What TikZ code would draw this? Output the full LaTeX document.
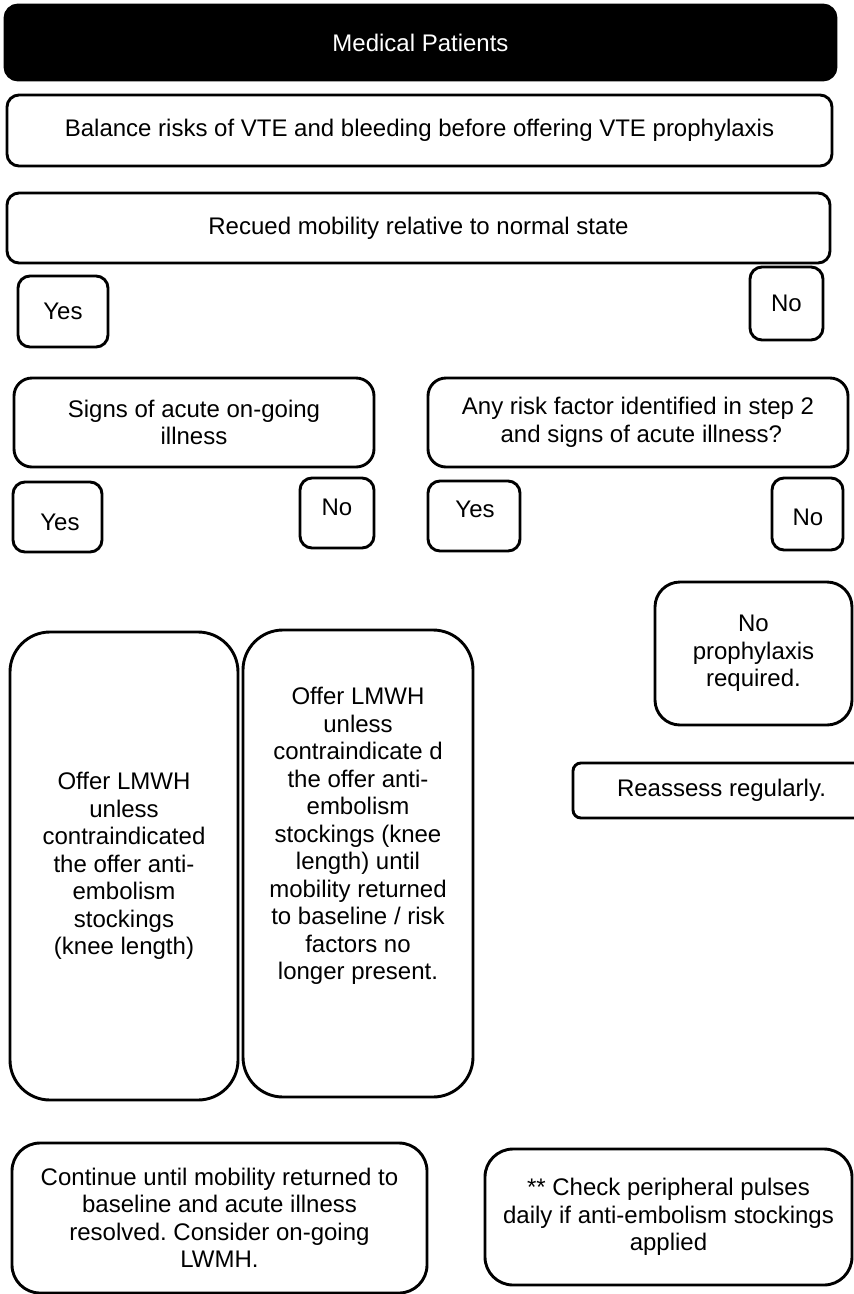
\documentclass[tikz,border=0pt]{standalone}
\usepackage{fontspec}
\setmainfont{Liberation Sans}
\frenchspacing
\begin{document}
\begin{tikzpicture}[x=1pt,y=-1pt,
  box/.style={draw, line width=2.9pt, rounded corners=#1, inner sep=0pt, align=center},
  box/.default=12pt,
  txt/.style={inner sep=0pt, align=center},
  every node/.append style={font=\fontsize{24}{27.5}\selectfont}]
\useasboundingbox (0,0) rectangle (854,1294);
% header
\node[box=13pt, fill=black, text=white, minimum width=831, minimum height=75] (med) at (420.5,42.5) {Medical Patients};
\node[box, minimum width=825, minimum height=71] (bal) at (419.5,130.5) {Balance risks of VTE and bleeding before offering VTE prophylaxis};
\node[box, minimum width=823, minimum height=70] (rec) at (418.5,228) {Recued mobility relative to normal state};
% first yes/no
\node[box, minimum width=90, minimum height=71] (yesA) at (63,311.5) {Yes};
\node[box, minimum width=73, minimum height=73] (noA) at (786.5,303.5) {No};
% questions
\node[box=18pt, minimum width=360, minimum height=89] (signs) at (194,422.5) {Signs of acute on-going\\illness};
\node[box=18pt, minimum width=420, minimum height=89] (any) at (638,422.5) {Any risk factor identified in step 2\\\ and signs of acute illness?};
% second yes/no
\node[box, minimum width=89, minimum height=70] (yesB) at (57.5,517) {};
\node[txt] (yesBt) at (60,522) {Yes};
\node[box, minimum width=74, minimum height=70] (noB) at (337,513) {};
\node[txt] (noBt) at (337,507) {No};
\node[box, minimum width=92, minimum height=70] (yesC) at (474,516) {};
\node[txt] (yesCt) at (475,509) {Yes};
\node[box, minimum width=71, minimum height=72] (noC) at (807.5,514) {};
\node[txt] (noCt) at (808,517) {No};
% right side
\node[box=25pt, minimum width=197, minimum height=143] (noproph) at (753.5,653.5) {No\\prophylaxis\\required.};
\node[box=8pt, minimum width=297, minimum height=55] (reass) at (721.5,790.5) {Reassess regularly.};
% tall boxes
\node[box=40pt, minimum width=228, minimum height=468] (tallL) at (124,866) {Offer LMWH\\unless\\contraindicated\\the offer anti-\\embolism\\stockings\\(knee length)};
\node[box=40pt, minimum width=230, minimum height=467] (tallR) at (358,863.5) {};
\node[txt] (tallRt) at (358,836) {Offer LMWH\\unless\\contraindicate d\\the offer anti-\\embolism\\stockings (knee\\length) until\\mobility returned\\to baseline / risk\\factors no\\longer present.};
% bottom
\node[box=28pt, minimum width=415, minimum height=150] (cont) at (219.5,1218) {Continue until mobility returned to\\baseline and acute illness\\resolved. Consider on-going\\LWMH.};
\node[box=28pt, minimum width=367, minimum height=136] (check) at (668.5,1217) {** Check peripheral pulses\\daily if anti-embolism stockings\\applied};
\end{tikzpicture}
\end{document}
